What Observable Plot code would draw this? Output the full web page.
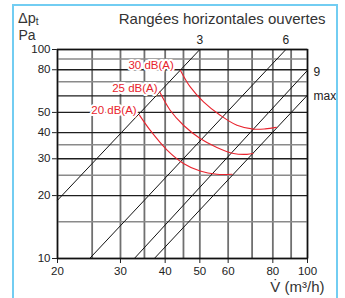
<!DOCTYPE html>
<html><head><meta charset="utf-8">
<script src="https://cdn.jsdelivr.net/npm/d3@7"></script>
<script src="https://cdn.jsdelivr.net/npm/@observablehq/plot@0.6"></script>
<style>
body{margin:0;background:#fff;}
#wrap{position:relative;width:345px;height:298px;overflow:hidden;}
#border{position:absolute;left:12px;top:4px;width:326px;height:340px;border:2px solid #72cdf2;box-sizing:border-box;z-index:2;pointer-events:none;}
#chart{position:absolute;left:0;top:0;z-index:1;}
</style></head><body>
<div id="wrap"><div id="border"></div><div id="chart"></div></div>
<script>
// Axis ticks and grid
const xTicks = [20, 30, 40, 50, 60, 80, 100];
const yTicks = [10, 20, 30, 40, 50, 80, 100];
const xGrid = [20, 25, 30, 35, 40, 45, 50, 60, 70, 80, 90, 100];
const yGridMajor = [10, 20, 30, 40, 50, 60, 80, 100];
const yGridMinor = [15, 25, 35, 70, 90];

// Operating lines (log-log straight lines)
const lineNames = ["3", "6", "9", "max"];
const lineX0 = [20, 24.6, 32.8, 37.3];
const lineY0 = [19, 10, 10, 10];
const lineX1 = [50, 87, 100, 100];
const lineY1 = [100, 100, 79.5, 60.5];

// Noise curves
const curve30X = [44.1, 47.0, 51.2, 57.0, 63.5, 70.6, 76.2, 81.8];
const curve30Y = [79.6, 66.2, 56.2, 48.5, 43.4, 41.6, 41.7, 42.4];
const curve25X = [38.6, 41.3, 45.0, 50.1, 55.8, 62.1, 67.7, 70.4];
const curve25Y = [62.7, 51.2, 43.4, 37.5, 34.0, 31.8, 31.5, 31.8];
const curve20X = [33.9, 36.3, 40.5, 45.0, 50.1, 55.8, 61.5];
const curve20Y = [48.5, 41.1, 33.0, 28.5, 26.2, 25.3, 25.3];

// Curve labels
const noiseLabels = ["30 dB(A)", "25 dB(A)", "20 dB(A)"];
const noiseLabelX = [42.3, 38.1, 33.3];
const noiseLabelY = [84, 65.3, 51.3];

const title = "Rangées horizontales ouvertes";
const xLabel = "V\u0307 (m³/h)";

const red = "#e8232d";
const font = "'Liberation Sans', Arial, sans-serif";

const links = lineNames.map((n, i) => ({name: n, x1: lineX0[i], y1: lineY0[i], x2: lineX1[i], y2: lineY1[i]}));
const curves = [
  ...curve30X.map((x, i) => ({k: "30", x, y: curve30Y[i]})),
  ...curve25X.map((x, i) => ({k: "25", x, y: curve25Y[i]})),
  ...curve20X.map((x, i) => ({k: "20", x, y: curve20Y[i]}))
];
const labels = noiseLabels.map((t, i) => ({t, x: noiseLabelX[i], y: noiseLabelY[i]}));
const topLabels = links.filter(d => d.y2 >= 100);
const sideLabels = links.filter(d => d.y2 < 100);

const chart = Plot.plot({
  width: 345, height: 298,
  marginLeft: 57, marginRight: 38, marginTop: 49, marginBottom: 40,
  style: {fontFamily: font, fontSize: "11.5px", color: "#222", background: "transparent", overflow: "visible"},
  x: {type: "log", domain: [20, 100], ticks: xTicks, tickFormat: d => `${d}`, tickSize: 5, tickPadding: 3, label: null},
  y: {type: "log", domain: [10, 100], ticks: yTicks, tickFormat: d => `${d}`, tickSize: 5, tickPadding: 2, label: null},
  marks: [
    Plot.ruleX(xGrid, {stroke: "#707070", strokeWidth: 1.8}),
    Plot.ruleY(yGridMinor, {stroke: "#8a8a8a", strokeWidth: 1.5}),
    Plot.ruleY(yGridMajor, {stroke: "#1e1e1e", strokeWidth: 1.4}),
    Plot.frame({stroke: "#111", strokeWidth: 1.4}),
    Plot.link(links, {x1: "x1", y1: "y1", x2: "x2", y2: "y2", stroke: "#111", strokeWidth: 1}),
    Plot.line(curves, {x: "x", y: "y", z: "k", stroke: red, strokeWidth: 1.1, curve: "catmull-rom"}),
    Plot.text(labels, {x: "x", y: "y", text: "t", textAnchor: "end", fill: red, stroke: "white", strokeWidth: 4, fontSize: 11.5}),
    Plot.text(topLabels, {x: "x2", y: "y2", text: "name", dy: -9, fill: "#222", fontSize: 12}),
    Plot.text(sideLabels, {x: "x2", y: "y2", text: "name", textAnchor: "start", dx: 6, dy: 1.5, fill: "#222", fontSize: 12}),
    Plot.text([title], {frameAnchor: "top-right", lineAnchor: "bottom", dx: 18, dy: -26, fontSize: 15, fill: "#333"}),
    Plot.text([xLabel], {frameAnchor: "bottom-right", lineAnchor: "bottom", dx: 17, dy: 33, fontSize: 15, fill: "#333"}),
    Plot.text(["Pa"], {frameAnchor: "top-left", lineAnchor: "bottom", textAnchor: "start", dx: -39, dy: -10, fontSize: 14, fill: "#333"})
  ]
});
document.getElementById("chart").appendChild(chart);

// Δp with subscript t (needs a tspan)
const svg = d3.select(chart);
const t = svg.append("text").attr("x", 18).attr("y", 22.5).attr("text-anchor", "start")
  .attr("font-family", font).attr("font-size", 14.5).attr("fill", "#333");
t.append("tspan").text("Δp");
t.append("tspan").attr("dy", 2).attr("font-size", 10).text("t");
</script>
</body></html>
